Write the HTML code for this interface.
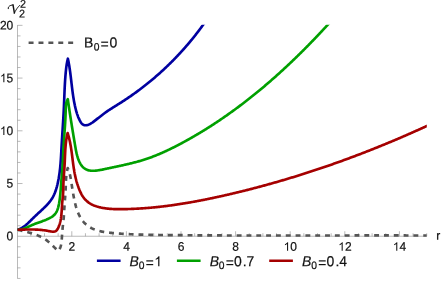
<!DOCTYPE html>
<html>
<head>
<meta charset="utf-8">
<title>plot</title>
<style>
html,body{margin:0;padding:0;background:#fff;}
body{width:442px;height:281px;overflow:hidden;}
svg{display:block;will-change:transform;}
text{font-family:"Liberation Sans",sans-serif;fill:#111;stroke:#111;stroke-width:0.2px;}
.c{fill:none;stroke-width:2.65;stroke-linejoin:round;stroke-linecap:butt;}
</style>
</head>
<body>
<svg width="442" height="281" viewBox="0 0 442 281">
<rect x="0" y="0" width="442" height="281" fill="#ffffff"/>
<g stroke="#8c8c8c" stroke-width="0.6" fill="none">
<line x1="17.50" y1="236.25" x2="426.80" y2="236.25"/>
<line x1="17.50" y1="25.10" x2="17.50" y2="278.60"/>
</g>
<g stroke="#8c8c8c" stroke-width="0.6" fill="none">
<line x1="30.85" y1="236.25" x2="30.85" y2="233.25"/>
<line x1="44.50" y1="236.25" x2="44.50" y2="233.25"/>
<line x1="58.15" y1="236.25" x2="58.15" y2="233.25"/>
<line x1="71.80" y1="236.25" x2="71.80" y2="231.25"/>
<line x1="85.45" y1="236.25" x2="85.45" y2="233.25"/>
<line x1="99.10" y1="236.25" x2="99.10" y2="233.25"/>
<line x1="112.75" y1="236.25" x2="112.75" y2="233.25"/>
<line x1="126.40" y1="236.25" x2="126.40" y2="231.25"/>
<line x1="140.05" y1="236.25" x2="140.05" y2="233.25"/>
<line x1="153.70" y1="236.25" x2="153.70" y2="233.25"/>
<line x1="167.35" y1="236.25" x2="167.35" y2="233.25"/>
<line x1="181.00" y1="236.25" x2="181.00" y2="231.25"/>
<line x1="194.65" y1="236.25" x2="194.65" y2="233.25"/>
<line x1="208.30" y1="236.25" x2="208.30" y2="233.25"/>
<line x1="221.95" y1="236.25" x2="221.95" y2="233.25"/>
<line x1="235.60" y1="236.25" x2="235.60" y2="231.25"/>
<line x1="249.25" y1="236.25" x2="249.25" y2="233.25"/>
<line x1="262.90" y1="236.25" x2="262.90" y2="233.25"/>
<line x1="276.55" y1="236.25" x2="276.55" y2="233.25"/>
<line x1="290.20" y1="236.25" x2="290.20" y2="231.25"/>
<line x1="303.85" y1="236.25" x2="303.85" y2="233.25"/>
<line x1="317.50" y1="236.25" x2="317.50" y2="233.25"/>
<line x1="331.15" y1="236.25" x2="331.15" y2="233.25"/>
<line x1="344.80" y1="236.25" x2="344.80" y2="231.25"/>
<line x1="358.45" y1="236.25" x2="358.45" y2="233.25"/>
<line x1="372.10" y1="236.25" x2="372.10" y2="233.25"/>
<line x1="385.75" y1="236.25" x2="385.75" y2="233.25"/>
<line x1="399.40" y1="236.25" x2="399.40" y2="231.25"/>
<line x1="413.05" y1="236.25" x2="413.05" y2="233.25"/>
<line x1="426.70" y1="236.25" x2="426.70" y2="233.25"/>
<line x1="17.50" y1="278.43" x2="20.50" y2="278.43"/>
<line x1="17.50" y1="267.88" x2="20.50" y2="267.88"/>
<line x1="17.50" y1="257.34" x2="20.50" y2="257.34"/>
<line x1="17.50" y1="246.79" x2="20.50" y2="246.79"/>
<line x1="17.50" y1="225.71" x2="20.50" y2="225.71"/>
<line x1="17.50" y1="215.16" x2="20.50" y2="215.16"/>
<line x1="17.50" y1="204.62" x2="20.50" y2="204.62"/>
<line x1="17.50" y1="194.07" x2="20.50" y2="194.07"/>
<line x1="17.50" y1="183.53" x2="22.50" y2="183.53"/>
<line x1="17.50" y1="172.98" x2="20.50" y2="172.98"/>
<line x1="17.50" y1="162.44" x2="20.50" y2="162.44"/>
<line x1="17.50" y1="151.89" x2="20.50" y2="151.89"/>
<line x1="17.50" y1="141.34" x2="20.50" y2="141.34"/>
<line x1="17.50" y1="130.80" x2="22.50" y2="130.80"/>
<line x1="17.50" y1="120.25" x2="20.50" y2="120.25"/>
<line x1="17.50" y1="109.71" x2="20.50" y2="109.71"/>
<line x1="17.50" y1="99.16" x2="20.50" y2="99.16"/>
<line x1="17.50" y1="88.62" x2="20.50" y2="88.62"/>
<line x1="17.50" y1="78.07" x2="22.50" y2="78.07"/>
<line x1="17.50" y1="67.53" x2="20.50" y2="67.53"/>
<line x1="17.50" y1="56.99" x2="20.50" y2="56.99"/>
<line x1="17.50" y1="46.44" x2="20.50" y2="46.44"/>
<line x1="17.50" y1="35.90" x2="20.50" y2="35.90"/>
<line x1="17.50" y1="25.35" x2="22.50" y2="25.35"/>
</g>
<g>
<text transform="translate(68.56,250.75) rotate(0.03) scale(1,1.040)" font-size="12.00px">2</text>
<text transform="translate(123.16,250.75) rotate(0.03) scale(1,1.040)" font-size="12.00px">4</text>
<text transform="translate(177.76,250.75) rotate(0.03) scale(1,1.040)" font-size="12.00px">6</text>
<text transform="translate(232.36,250.75) rotate(0.03) scale(1,1.040)" font-size="12.00px">8</text>
<path transform="translate(283.63,250.75) scale(12.000,-12.000)" d="M0.3726,0 L0.2847,0 L0.2847,0.560 C0.2637,0.540 0.236,0.520 0.202,0.500 C0.168,0.480 0.137,0.465 0.110,0.455 L0.110,0.540 C0.159,0.563 0.202,0.591 0.238,0.624 C0.275,0.657 0.301,0.689 0.316,0.716 L0.3726,0.716 Z" fill="#111"/><text transform="translate(290.30,250.75) rotate(0.03) scale(1,1.040)" font-size="12.00px">0</text>
<path transform="translate(338.23,250.75) scale(12.000,-12.000)" d="M0.3726,0 L0.2847,0 L0.2847,0.560 C0.2637,0.540 0.236,0.520 0.202,0.500 C0.168,0.480 0.137,0.465 0.110,0.455 L0.110,0.540 C0.159,0.563 0.202,0.591 0.238,0.624 C0.275,0.657 0.301,0.689 0.316,0.716 L0.3726,0.716 Z" fill="#111"/><text transform="translate(344.90,250.75) rotate(0.03) scale(1,1.040)" font-size="12.00px">2</text>
<path transform="translate(392.83,250.75) scale(12.000,-12.000)" d="M0.3726,0 L0.2847,0 L0.2847,0.560 C0.2637,0.540 0.236,0.520 0.202,0.500 C0.168,0.480 0.137,0.465 0.110,0.455 L0.110,0.540 C0.159,0.563 0.202,0.591 0.238,0.624 C0.275,0.657 0.301,0.689 0.316,0.716 L0.3726,0.716 Z" fill="#111"/><text transform="translate(399.50,250.75) rotate(0.03) scale(1,1.040)" font-size="12.00px">4</text>
<text transform="translate(6.58,240.35) rotate(0.03) scale(1,1.040)" font-size="12.00px">0</text>
<text transform="translate(6.58,187.62) rotate(0.03) scale(1,1.040)" font-size="12.00px">5</text>
<path transform="translate(-0.09,134.90) scale(12.000,-12.000)" d="M0.3726,0 L0.2847,0 L0.2847,0.560 C0.2637,0.540 0.236,0.520 0.202,0.500 C0.168,0.480 0.137,0.465 0.110,0.455 L0.110,0.540 C0.159,0.563 0.202,0.591 0.238,0.624 C0.275,0.657 0.301,0.689 0.316,0.716 L0.3726,0.716 Z" fill="#111"/><text transform="translate(6.58,134.90) rotate(0.03) scale(1,1.040)" font-size="12.00px">0</text>
<path transform="translate(-0.09,82.17) scale(12.000,-12.000)" d="M0.3726,0 L0.2847,0 L0.2847,0.560 C0.2637,0.540 0.236,0.520 0.202,0.500 C0.168,0.480 0.137,0.465 0.110,0.455 L0.110,0.540 C0.159,0.563 0.202,0.591 0.238,0.624 C0.275,0.657 0.301,0.689 0.316,0.716 L0.3726,0.716 Z" fill="#111"/><text transform="translate(6.58,82.17) rotate(0.03) scale(1,1.040)" font-size="12.00px">5</text>
<text transform="translate(-0.09,29.45) rotate(0.03) scale(1,1.040)" font-size="12.00px">2</text><text transform="translate(6.58,29.45) rotate(0.03) scale(1,1.040)" font-size="12.00px">0</text>
<text transform="translate(436.20,239.80) rotate(0.03) scale(1,1.040)" font-size="12.00px">r</text>
</g>
<!-- curves -->
<defs><clipPath id="pr"><rect x="0" y="24.75" width="426.8" height="260"/></clipPath></defs>
<g clip-path="url(#pr)">
<path class="c" stroke="#555555" stroke-dasharray="4.91 4.91" stroke-dashoffset="-0.1" d="M17.60,229.80 L18.38,229.97 L19.17,230.15 L19.97,230.32 L20.76,230.50 L21.56,230.68 L22.36,230.86 L23.16,231.05 L23.96,231.24 L24.77,231.43 L25.57,231.62 L26.38,231.82 L27.18,232.03 L27.98,232.24 L28.79,232.45 L29.59,232.68 L30.39,232.90 L31.19,233.14 L31.98,233.38 L32.77,233.63 L33.56,233.89 L34.35,234.16 L35.13,234.44 L35.91,234.72 L36.68,235.02 L37.45,235.32 L38.21,235.64 L38.96,235.97 L39.71,236.31 L40.45,236.66 L41.19,237.02 L41.92,237.40 L42.64,237.79 L43.35,238.19 L44.05,238.61 L44.74,239.04 L45.42,239.49 L46.10,239.95 L46.76,240.43 L47.41,240.92 L48.05,241.43 L48.69,241.95 L49.31,242.49 L49.92,243.04 L50.53,243.60 L51.13,244.17 L51.73,244.74 L52.32,245.32 L52.91,245.90 L53.50,246.49 L54.09,247.07 L54.68,247.65 L55.27,248.23 L55.87,248.80 L56.47,249.36 L57.07,249.92 L57.68,250.47 L58.30,251.00 L58.80,250.32 L59.24,249.63 L59.64,248.92 L59.99,248.19 L60.30,247.45 L60.57,246.69 L60.80,245.93 L61.00,245.15 L61.17,244.36 L61.31,243.57 L61.43,242.76 L61.53,241.96 L61.62,241.14 L61.69,240.32 L61.75,239.50 L61.81,238.68 L61.86,237.86 L61.92,237.03 L61.97,236.21 L62.03,235.39 L62.09,234.57 L62.15,233.76 L62.21,232.94 L62.27,232.12 L62.34,231.31 L62.41,230.49 L62.48,229.68 L62.56,228.87 L62.63,228.05 L62.71,227.24 L62.80,226.43 L62.89,225.62 L62.97,224.81 L63.06,224.01 L63.16,223.20 L63.25,222.39 L63.33,221.58 L63.42,220.77 L63.51,219.96 L63.59,219.16 L63.67,218.35 L63.74,217.54 L63.81,216.72 L63.87,215.91 L63.93,215.10 L63.98,214.29 L64.03,213.47 L64.08,212.66 L64.13,211.85 L64.18,211.03 L64.23,210.22 L64.27,209.40 L64.32,208.59 L64.37,207.77 L64.42,206.96 L64.48,206.15 L64.53,205.33 L64.59,204.52 L64.65,203.70 L64.71,202.89 L64.77,202.08 L64.83,201.27 L64.89,200.45 L64.95,199.64 L65.01,198.83 L65.07,198.01 L65.13,197.20 L65.19,196.39 L65.25,195.57 L65.30,194.76 L65.36,193.95 L65.41,193.13 L65.46,192.32 L65.51,191.51 L65.56,190.69 L65.60,189.88 L65.64,189.06 L65.68,188.25 L65.71,187.43 L65.75,186.62 L65.77,185.80 L65.80,184.99 L65.83,184.17 L65.86,183.36 L65.89,182.54 L65.92,181.73 L65.96,180.91 L66.00,180.10 L66.04,179.29 L66.09,178.47 L66.15,177.66 L66.22,176.85 L66.29,176.04 L66.38,175.23 L66.47,174.42 L66.57,173.62 L66.69,172.81 L66.82,172.00 L66.97,171.20 L67.13,170.40 L67.30,169.60 L67.49,168.80 L67.70,168.00 L68.02,168.75 L68.32,169.50 L68.60,170.25 L68.86,171.01 L69.11,171.77 L69.35,172.54 L69.57,173.31 L69.77,174.09 L69.97,174.86 L70.15,175.64 L70.33,176.42 L70.49,177.21 L70.64,178.00 L70.79,178.78 L70.93,179.57 L71.07,180.37 L71.20,181.16 L71.32,181.95 L71.44,182.75 L71.56,183.54 L71.68,184.34 L71.79,185.13 L71.91,185.93 L72.03,186.72 L72.15,187.51 L72.27,188.31 L72.39,189.10 L72.52,189.89 L72.65,190.68 L72.78,191.47 L72.92,192.26 L73.05,193.05 L73.19,193.84 L73.33,194.62 L73.47,195.41 L73.62,196.19 L73.77,196.98 L73.92,197.76 L74.07,198.55 L74.23,199.33 L74.39,200.11 L74.56,200.90 L74.73,201.68 L74.90,202.46 L75.09,203.24 L75.28,204.02 L75.47,204.80 L75.68,205.59 L75.89,206.37 L76.12,207.14 L76.35,207.92 L76.59,208.70 L76.85,209.47 L77.11,210.24 L77.38,211.01 L77.67,211.77 L77.97,212.53 L78.28,213.27 L78.61,214.02 L78.95,214.75 L79.30,215.48 L79.67,216.19 L80.05,216.90 L80.45,217.60 L80.86,218.28 L81.29,218.96 L81.73,219.62 L82.20,220.26 L82.68,220.90 L83.18,221.51 L83.70,222.12 L84.23,222.70 L84.79,223.27 L85.37,223.82 L85.96,224.36 L86.57,224.87 L87.20,225.37 L87.85,225.85 L88.51,226.31 L89.18,226.75 L89.86,227.18 L90.56,227.58 L91.27,227.97 L91.98,228.34 L92.71,228.69 L93.44,229.02 L94.18,229.33 L94.93,229.62 L95.68,229.90 L96.44,230.16 L97.21,230.41 L97.98,230.64 L98.75,230.85 L99.53,231.05 L100.32,231.24 L101.11,231.42 L101.90,231.58 L102.70,231.74 L103.50,231.88 L104.30,232.02 L105.11,232.14 L105.91,232.26 L106.72,232.37 L107.53,232.47 L108.35,232.57 L109.16,232.66 L109.97,232.75 L110.79,232.83 L111.60,232.91 L112.41,232.99 L113.23,233.07 L114.04,233.14 L114.85,233.21 L115.66,233.28 L116.47,233.35 L117.28,233.41 L118.09,233.48 L118.90,233.54 L119.70,233.60 L120.51,233.65 L121.32,233.71 L122.12,233.76 L122.93,233.82 L123.73,233.87 L124.54,233.92 L125.34,233.96 L126.15,234.01 L126.95,234.05 L127.75,234.10 L128.56,234.14 L129.36,234.18 L130.16,234.22 L130.96,234.25 L131.76,234.29 L132.56,234.32 L133.36,234.36 L134.16,234.39 L134.96,234.42 L135.76,234.45 L136.56,234.48 L137.36,234.51 L138.16,234.53 L138.95,234.56 L139.75,234.58 L140.55,234.60 L141.35,234.63 L142.15,234.65 L142.94,234.67 L143.74,234.69 L144.54,234.71 L145.33,234.72 L146.13,234.74 L146.93,234.76 L147.72,234.77 L148.52,234.79 L149.31,234.80 L150.11,234.82 L150.91,234.83 L151.70,234.85 L152.50,234.86 L153.29,234.87 L154.09,234.88 L154.89,234.89 L155.68,234.90 L156.48,234.92 L157.27,234.93 L158.07,234.94 L158.87,234.95 L159.66,234.96 L160.46,234.97 L161.26,234.98 L162.05,234.99 L162.85,235.00 L163.65,235.00 L164.44,235.01 L165.24,235.02 L166.04,235.03 L166.83,235.04 L167.63,235.05 L168.43,235.06 L169.22,235.07 L170.02,235.08 L170.82,235.09 L171.62,235.09 L172.42,235.10 L173.21,235.11 L174.01,235.12 L174.81,235.13 L175.61,235.13 L176.41,235.14 L177.20,235.15 L178.00,235.16 L178.80,235.17 L179.60,235.17 L180.40,235.18 L181.20,235.19 L182.00,235.19 L182.80,235.20 L183.59,235.21 L184.39,235.22 L185.19,235.22 L185.99,235.23 L186.79,235.24 L187.59,235.24 L188.39,235.25 L189.19,235.25 L189.99,235.26 L190.79,235.27 L191.59,235.27 L192.39,235.28 L193.19,235.29 L193.99,235.29 L194.79,235.30 L195.59,235.30 L196.39,235.31 L197.19,235.31 L197.99,235.32 L198.79,235.32 L199.59,235.33 L200.39,235.34 L201.19,235.34 L201.99,235.35 L202.80,235.35 L203.60,235.35 L204.40,235.36 L205.20,235.36 L206.00,235.37 L206.80,235.37 L207.60,235.38 L208.40,235.38 L209.21,235.39 L210.01,235.39 L210.81,235.40 L211.61,235.40 L212.41,235.40 L213.21,235.41 L214.02,235.41 L214.82,235.41 L215.62,235.42 L216.42,235.42 L217.22,235.43 L218.03,235.43 L218.83,235.43 L219.63,235.44 L220.43,235.44 L221.23,235.44 L222.04,235.45 L222.84,235.45 L223.64,235.45 L224.45,235.46 L225.25,235.46 L226.05,235.46 L226.85,235.46 L227.66,235.47 L228.46,235.47 L229.26,235.47 L230.06,235.47 L230.87,235.48 L231.67,235.48 L232.47,235.48 L233.28,235.48 L234.08,235.49 L234.88,235.49 L235.69,235.49 L236.49,235.49 L237.29,235.49 L238.10,235.50 L238.90,235.50 L239.70,235.50 L240.51,235.50 L241.31,235.50 L242.12,235.51 L242.92,235.51 L243.72,235.51 L244.53,235.51 L245.33,235.51 L246.13,235.51 L246.94,235.51 L247.74,235.52 L248.55,235.52 L249.35,235.52 L250.15,235.52 L250.96,235.52 L251.76,235.52 L252.57,235.52 L253.37,235.52 L254.17,235.52 L254.98,235.52 L255.78,235.53 L256.59,235.53 L257.39,235.53 L258.20,235.53 L259.00,235.53 L259.80,235.53 L260.61,235.53 L261.41,235.53 L262.22,235.53 L263.02,235.53 L263.83,235.53 L264.63,235.53 L265.44,235.53 L266.24,235.53 L267.05,235.53 L267.85,235.53 L268.65,235.53 L269.46,235.53 L270.26,235.53 L271.07,235.53 L271.87,235.53 L272.68,235.53 L273.48,235.53 L274.29,235.53 L275.09,235.53 L275.90,235.53 L276.70,235.53 L277.51,235.53 L278.31,235.53 L279.12,235.53 L279.92,235.53 L280.73,235.53 L281.53,235.53 L282.34,235.53 L283.14,235.53 L283.95,235.53 L284.75,235.53 L285.56,235.53 L286.36,235.53 L287.17,235.53 L287.97,235.53 L288.78,235.53 L289.58,235.53 L290.39,235.53 L291.19,235.52 L292.00,235.52 L292.80,235.52 L293.61,235.52 L294.41,235.52 L295.22,235.52 L296.02,235.52 L296.83,235.52 L297.63,235.52 L298.44,235.52 L299.24,235.52 L300.05,235.52 L300.85,235.51 L301.66,235.51 L302.46,235.51 L303.27,235.51 L304.07,235.51 L304.88,235.51 L305.68,235.51 L306.49,235.51 L307.29,235.51 L308.10,235.51 L308.90,235.50 L309.71,235.50 L310.51,235.50 L311.32,235.50 L312.12,235.50 L312.93,235.50 L313.73,235.50 L314.54,235.50 L315.34,235.50 L316.15,235.49 L316.95,235.49 L317.76,235.49 L318.56,235.49 L319.37,235.49 L320.17,235.49 L320.98,235.49 L321.78,235.49 L322.58,235.49 L323.39,235.48 L324.19,235.48 L325.00,235.48 L325.80,235.48 L326.61,235.48 L327.41,235.48 L328.22,235.48 L329.02,235.48 L329.83,235.47 L330.63,235.47 L331.43,235.47 L332.24,235.47 L333.04,235.47 L333.85,235.47 L334.65,235.47 L335.46,235.47 L336.26,235.47 L337.07,235.46 L337.87,235.46 L338.67,235.46 L339.48,235.46 L340.28,235.46 L341.09,235.46 L341.89,235.46 L342.69,235.46 L343.50,235.46 L344.30,235.45 L345.11,235.45 L345.91,235.45 L346.71,235.45 L347.52,235.45 L348.32,235.45 L349.12,235.45 L349.93,235.45 L350.73,235.45 L351.54,235.45 L352.34,235.44 L353.14,235.44 L353.95,235.44 L354.75,235.44 L355.55,235.44 L356.36,235.44 L357.16,235.44 L357.96,235.44 L358.77,235.44 L359.57,235.44 L360.37,235.44 L361.18,235.44 L361.98,235.43 L362.78,235.43 L363.58,235.43 L364.39,235.43 L365.19,235.43 L365.99,235.43 L366.80,235.43 L367.60,235.43 L368.40,235.43 L369.20,235.43 L370.01,235.43 L370.81,235.43 L371.61,235.43 L372.41,235.43 L373.21,235.43 L374.02,235.43 L374.82,235.43 L375.62,235.43 L376.42,235.43 L377.22,235.43 L378.03,235.43 L378.83,235.43 L379.63,235.43 L380.43,235.43 L381.23,235.43 L382.04,235.43 L382.84,235.43 L383.64,235.43 L384.44,235.43 L385.24,235.43 L386.04,235.43 L386.84,235.43 L387.64,235.43 L388.45,235.43 L389.25,235.43 L390.05,235.43 L390.85,235.43 L391.65,235.43 L392.45,235.43 L393.25,235.43 L394.05,235.43 L394.85,235.43 L395.65,235.43 L396.45,235.43 L397.25,235.43 L398.05,235.43 L398.85,235.44 L399.65,235.44 L400.45,235.44 L401.25,235.44 L402.05,235.44 L402.85,235.44 L403.65,235.44 L404.45,235.44 L405.25,235.44 L406.05,235.45 L406.85,235.45 L407.65,235.45 L408.45,235.45 L409.25,235.45 L410.04,235.45 L410.84,235.46 L411.64,235.46 L412.44,235.46 L413.24,235.46 L414.04,235.46 L414.84,235.46 L415.63,235.47 L416.43,235.47 L417.23,235.47 L418.03,235.47 L418.83,235.47 L419.62,235.48 L420.42,235.48 L421.22,235.48 L422.02,235.48 L422.81,235.49 L423.61,235.49 L424.41,235.49 L425.21,235.49 L426.00,235.50 L426.80,235.50"/>
<path class="c" stroke="#0000a0" d="M17.60,229.80 L18.38,229.52 L19.14,229.21 L19.88,228.87 L20.60,228.52 L21.31,228.14 L22.01,227.74 L22.69,227.32 L23.35,226.88 L24.00,226.42 L24.65,225.95 L25.28,225.47 L25.90,224.97 L26.51,224.45 L27.11,223.93 L27.71,223.40 L28.30,222.85 L28.89,222.30 L29.47,221.74 L30.04,221.18 L30.62,220.62 L31.19,220.05 L31.76,219.48 L32.33,218.91 L32.91,218.33 L33.48,217.77 L34.06,217.20 L34.64,216.64 L35.22,216.08 L35.81,215.53 L36.40,214.97 L36.99,214.42 L37.58,213.88 L38.17,213.33 L38.77,212.78 L39.36,212.24 L39.95,211.69 L40.55,211.15 L41.14,210.60 L41.73,210.05 L42.32,209.50 L42.90,208.95 L43.49,208.39 L44.07,207.83 L44.64,207.27 L45.22,206.70 L45.79,206.13 L46.35,205.55 L46.91,204.97 L47.46,204.38 L48.00,203.78 L48.53,203.17 L49.05,202.56 L49.56,201.94 L50.06,201.32 L50.54,200.68 L51.01,200.03 L51.46,199.37 L51.90,198.71 L52.32,198.03 L52.72,197.34 L53.10,196.64 L53.47,195.93 L53.82,195.21 L54.16,194.48 L54.48,193.75 L54.79,193.01 L55.08,192.26 L55.36,191.50 L55.63,190.74 L55.89,189.98 L56.14,189.21 L56.37,188.43 L56.60,187.65 L56.82,186.87 L57.02,186.08 L57.22,185.30 L57.42,184.51 L57.60,183.72 L57.78,182.93 L57.95,182.14 L58.12,181.35 L58.28,180.55 L58.43,179.76 L58.58,178.97 L58.73,178.17 L58.86,177.38 L58.99,176.58 L59.12,175.79 L59.24,174.99 L59.36,174.20 L59.47,173.40 L59.58,172.60 L59.68,171.80 L59.78,171.01 L59.88,170.21 L59.97,169.41 L60.06,168.61 L60.14,167.81 L60.22,167.01 L60.30,166.21 L60.37,165.41 L60.44,164.60 L60.51,163.80 L60.57,163.00 L60.64,162.20 L60.70,161.40 L60.75,160.59 L60.81,159.79 L60.86,158.99 L60.92,158.19 L60.97,157.38 L61.02,156.58 L61.06,155.78 L61.11,154.97 L61.16,154.17 L61.20,153.36 L61.25,152.56 L61.29,151.76 L61.33,150.95 L61.38,150.15 L61.42,149.35 L61.46,148.54 L61.50,147.74 L61.55,146.93 L61.59,146.13 L61.64,145.33 L61.68,144.52 L61.73,143.72 L61.78,142.91 L61.82,142.11 L61.87,141.31 L61.92,140.50 L61.97,139.70 L62.02,138.90 L62.07,138.09 L62.12,137.29 L62.17,136.49 L62.22,135.68 L62.27,134.88 L62.32,134.08 L62.37,133.28 L62.42,132.47 L62.47,131.67 L62.52,130.87 L62.58,130.06 L62.63,129.26 L62.68,128.46 L62.73,127.65 L62.78,126.85 L62.83,126.05 L62.88,125.25 L62.93,124.44 L62.98,123.64 L63.03,122.84 L63.08,122.03 L63.13,121.23 L63.18,120.43 L63.23,119.62 L63.28,118.82 L63.33,118.02 L63.37,117.21 L63.42,116.41 L63.46,115.61 L63.51,114.80 L63.55,114.00 L63.60,113.20 L63.64,112.39 L63.68,111.59 L63.72,110.78 L63.76,109.98 L63.80,109.18 L63.84,108.37 L63.88,107.57 L63.91,106.76 L63.95,105.96 L63.98,105.15 L64.02,104.35 L64.05,103.54 L64.08,102.74 L64.11,101.94 L64.15,101.13 L64.18,100.33 L64.21,99.52 L64.24,98.72 L64.27,97.91 L64.30,97.11 L64.33,96.30 L64.36,95.50 L64.40,94.69 L64.43,93.89 L64.46,93.08 L64.49,92.28 L64.53,91.47 L64.56,90.67 L64.60,89.86 L64.63,89.06 L64.67,88.25 L64.71,87.45 L64.75,86.65 L64.79,85.84 L64.83,85.04 L64.88,84.23 L64.92,83.43 L64.97,82.63 L65.02,81.82 L65.07,81.02 L65.12,80.22 L65.17,79.42 L65.23,78.61 L65.29,77.81 L65.35,77.01 L65.41,76.21 L65.48,75.40 L65.54,74.60 L65.61,73.80 L65.69,73.00 L65.76,72.20 L65.84,71.40 L65.92,70.60 L66.00,69.80 L66.09,69.00 L66.18,68.20 L66.28,67.40 L66.38,66.60 L66.49,65.81 L66.61,65.01 L66.73,64.21 L66.86,63.42 L67.01,62.63 L67.16,61.84 L67.33,61.05 L67.50,60.27 L67.69,59.48 L67.90,58.70 L68.07,59.49 L68.23,60.27 L68.39,61.06 L68.54,61.85 L68.69,62.64 L68.83,63.43 L68.97,64.22 L69.11,65.01 L69.24,65.80 L69.37,66.59 L69.49,67.39 L69.61,68.18 L69.73,68.98 L69.85,69.78 L69.96,70.57 L70.07,71.37 L70.18,72.17 L70.28,72.97 L70.39,73.77 L70.49,74.56 L70.59,75.36 L70.69,76.16 L70.78,76.96 L70.88,77.76 L70.97,78.57 L71.07,79.37 L71.16,80.17 L71.26,80.97 L71.35,81.77 L71.44,82.57 L71.53,83.37 L71.63,84.17 L71.72,84.97 L71.82,85.77 L71.91,86.57 L72.01,87.37 L72.11,88.17 L72.20,88.97 L72.30,89.77 L72.41,90.57 L72.51,91.37 L72.62,92.17 L72.72,92.97 L72.83,93.76 L72.95,94.56 L73.06,95.35 L73.18,96.15 L73.30,96.94 L73.43,97.74 L73.56,98.53 L73.69,99.32 L73.82,100.11 L73.96,100.90 L74.11,101.69 L74.26,102.48 L74.41,103.26 L74.57,104.05 L74.73,104.83 L74.89,105.62 L75.07,106.40 L75.25,107.18 L75.43,107.96 L75.62,108.74 L75.81,109.51 L76.02,110.29 L76.23,111.06 L76.45,111.83 L76.68,112.60 L76.91,113.37 L77.16,114.13 L77.43,114.89 L77.70,115.65 L77.98,116.41 L78.28,117.16 L78.60,117.91 L78.93,118.65 L79.27,119.39 L79.63,120.13 L80.01,120.86 L80.41,121.59 L80.83,122.30 L81.29,122.97 L81.80,123.59 L82.37,124.13 L83.01,124.58 L83.70,124.92 L84.45,125.15 L85.23,125.27 L86.02,125.27 L86.83,125.16 L87.63,124.97 L88.42,124.70 L89.20,124.38 L89.94,124.01 L90.66,123.62 L91.35,123.20 L92.03,122.76 L92.69,122.31 L93.34,121.84 L93.98,121.36 L94.62,120.88 L95.26,120.39 L95.89,119.90 L96.52,119.41 L97.16,118.91 L97.79,118.42 L98.42,117.92 L99.05,117.42 L99.68,116.92 L100.31,116.43 L100.95,115.93 L101.58,115.44 L102.22,114.94 L102.86,114.46 L103.50,113.97 L104.14,113.49 L104.79,113.01 L105.44,112.54 L106.10,112.08 L106.75,111.62 L107.42,111.16 L108.08,110.71 L108.75,110.26 L109.42,109.82 L110.09,109.38 L110.77,108.94 L111.45,108.51 L112.12,108.08 L112.80,107.65 L113.49,107.22 L114.17,106.79 L114.85,106.36 L115.54,105.94 L116.22,105.51 L116.90,105.09 L117.59,104.66 L118.27,104.24 L118.95,103.81 L119.63,103.38 L120.32,102.95 L120.99,102.52 L121.67,102.09 L122.35,101.65 L123.03,101.22 L123.70,100.78 L124.37,100.34 L125.05,99.89 L125.72,99.45 L126.39,99.00 L127.05,98.55 L127.72,98.11 L128.39,97.65 L129.05,97.20 L129.72,96.75 L130.38,96.29 L131.04,95.83 L131.70,95.37 L132.36,94.91 L133.01,94.44 L133.67,93.98 L134.32,93.51 L134.97,93.04 L135.63,92.57 L136.28,92.10 L136.93,91.63 L137.57,91.15 L138.22,90.67 L138.86,90.19 L139.51,89.71 L140.15,89.23 L140.79,88.74 L141.43,88.26 L142.07,87.77 L142.71,87.28 L143.34,86.79 L143.98,86.30 L144.61,85.80 L145.24,85.30 L145.87,84.81 L146.50,84.31 L147.13,83.81 L147.76,83.30 L148.38,82.80 L149.00,82.29 L149.63,81.78 L150.25,81.27 L150.87,80.76 L151.48,80.25 L152.10,79.73 L152.71,79.22 L153.33,78.70 L153.94,78.18 L154.55,77.66 L155.16,77.14 L155.77,76.61 L156.38,76.09 L156.98,75.56 L157.59,75.03 L158.19,74.50 L158.79,73.97 L159.39,73.43 L159.99,72.90 L160.58,72.36 L161.18,71.82 L161.77,71.28 L162.36,70.74 L162.95,70.19 L163.54,69.65 L164.13,69.10 L164.72,68.55 L165.30,68.00 L165.89,67.45 L166.47,66.90 L167.05,66.34 L167.63,65.79 L168.21,65.23 L168.78,64.67 L169.36,64.11 L169.93,63.55 L170.50,62.98 L171.07,62.42 L171.64,61.85 L172.21,61.28 L172.77,60.71 L173.34,60.14 L173.90,59.57 L174.46,58.99 L175.02,58.42 L175.58,57.84 L176.13,57.26 L176.69,56.68 L177.24,56.10 L177.79,55.52 L178.34,54.93 L178.89,54.34 L179.44,53.76 L179.99,53.17 L180.53,52.58 L181.07,51.98 L181.61,51.39 L182.15,50.79 L182.69,50.20 L183.23,49.60 L183.76,49.00 L184.29,48.40 L184.83,47.80 L185.36,47.19 L185.88,46.59 L186.41,45.98 L186.93,45.37 L187.46,44.76 L187.98,44.15 L188.50,43.54 L189.02,42.93 L189.54,42.31 L190.05,41.69 L190.56,41.08 L191.08,40.46 L191.59,39.84 L192.10,39.21 L192.60,38.59 L193.11,37.96 L193.61,37.34 L194.11,36.71 L194.61,36.08 L195.11,35.45 L195.61,34.82 L196.11,34.19 L196.60,33.55 L197.09,32.91 L197.58,32.28 L198.07,31.64 L198.56,31.00 L199.04,30.36 L199.53,29.71 L200.01,29.07 L200.49,28.43 L200.97,27.78 L201.45,27.13 L201.92,26.48 L202.39,25.83 L202.87,25.18 L203.34,24.53 L203.81,23.87 L204.27,23.22 L204.74,22.56 L205.20,21.90"/>
<path class="c" stroke="#00a000" d="M17.60,229.80 L18.43,229.73 L19.25,229.64 L20.06,229.51 L20.86,229.35 L21.65,229.17 L22.43,228.97 L23.20,228.75 L23.96,228.50 L24.72,228.24 L25.47,227.96 L26.22,227.67 L26.97,227.37 L27.71,227.06 L28.44,226.74 L29.18,226.41 L29.91,226.08 L30.65,225.75 L31.38,225.41 L32.11,225.08 L32.85,224.75 L33.59,224.43 L34.33,224.12 L35.08,223.81 L35.83,223.52 L36.59,223.23 L37.35,222.96 L38.11,222.69 L38.87,222.43 L39.63,222.17 L40.40,221.91 L41.16,221.65 L41.92,221.38 L42.67,221.11 L43.43,220.83 L44.17,220.55 L44.91,220.25 L45.64,219.93 L46.37,219.61 L47.10,219.27 L47.83,218.93 L48.57,218.57 L49.32,218.21 L50.06,217.83 L50.79,217.44 L51.51,217.02 L52.21,216.59 L52.87,216.12 L53.50,215.62 L54.09,215.09 L54.64,214.53 L55.14,213.93 L55.60,213.31 L56.03,212.65 L56.43,211.98 L56.79,211.28 L57.12,210.55 L57.42,209.81 L57.69,209.06 L57.94,208.29 L58.17,207.50 L58.38,206.71 L58.58,205.91 L58.75,205.10 L58.91,204.29 L59.07,203.48 L59.21,202.67 L59.34,201.86 L59.47,201.05 L59.59,200.24 L59.70,199.44 L59.81,198.63 L59.91,197.83 L60.00,197.03 L60.09,196.23 L60.18,195.43 L60.26,194.63 L60.34,193.83 L60.41,193.04 L60.48,192.24 L60.55,191.44 L60.61,190.65 L60.68,189.85 L60.74,189.06 L60.80,188.26 L60.86,187.46 L60.92,186.67 L60.97,185.87 L61.03,185.07 L61.09,184.27 L61.15,183.47 L61.22,182.67 L61.28,181.87 L61.34,181.07 L61.41,180.27 L61.47,179.47 L61.54,178.66 L61.61,177.86 L61.67,177.06 L61.74,176.25 L61.80,175.45 L61.87,174.64 L61.94,173.83 L62.00,173.03 L62.07,172.22 L62.13,171.41 L62.19,170.61 L62.26,169.80 L62.32,168.99 L62.38,168.19 L62.43,167.38 L62.49,166.57 L62.55,165.77 L62.60,164.96 L62.65,164.16 L62.70,163.35 L62.75,162.54 L62.79,161.74 L62.84,160.93 L62.88,160.13 L62.92,159.33 L62.97,158.52 L63.01,157.72 L63.05,156.91 L63.09,156.11 L63.13,155.30 L63.16,154.50 L63.20,153.70 L63.24,152.89 L63.28,152.09 L63.32,151.29 L63.36,150.48 L63.40,149.68 L63.44,148.88 L63.49,148.07 L63.53,147.27 L63.58,146.47 L63.62,145.66 L63.67,144.86 L63.72,144.06 L63.77,143.25 L63.82,142.45 L63.87,141.65 L63.93,140.84 L63.98,140.04 L64.04,139.23 L64.09,138.43 L64.15,137.63 L64.20,136.82 L64.26,136.02 L64.32,135.22 L64.38,134.41 L64.43,133.61 L64.49,132.80 L64.55,132.00 L64.61,131.20 L64.66,130.39 L64.72,129.59 L64.78,128.78 L64.83,127.98 L64.89,127.17 L64.94,126.37 L64.99,125.57 L65.05,124.76 L65.10,123.96 L65.15,123.15 L65.19,122.35 L65.24,121.54 L65.29,120.74 L65.33,119.93 L65.37,119.13 L65.41,118.33 L65.45,117.52 L65.49,116.72 L65.52,115.91 L65.55,115.11 L65.58,114.30 L65.61,113.50 L65.64,112.69 L65.66,111.89 L65.68,111.08 L65.70,110.28 L65.71,109.47 L65.73,108.67 L65.75,107.86 L65.78,107.06 L65.82,106.26 L65.89,105.46 L65.99,104.66 L66.11,103.87 L66.27,103.08 L66.47,102.29 L66.72,101.51 L67.02,100.74 L67.38,99.97 L67.80,99.20 L67.91,100.00 L68.03,100.79 L68.14,101.59 L68.26,102.38 L68.37,103.18 L68.49,103.97 L68.61,104.77 L68.72,105.56 L68.84,106.36 L68.96,107.15 L69.08,107.95 L69.20,108.74 L69.31,109.54 L69.43,110.33 L69.55,111.12 L69.67,111.92 L69.80,112.71 L69.92,113.50 L70.04,114.30 L70.16,115.09 L70.28,115.88 L70.41,116.68 L70.53,117.47 L70.65,118.26 L70.78,119.05 L70.90,119.85 L71.02,120.64 L71.15,121.43 L71.27,122.22 L71.40,123.01 L71.53,123.81 L71.65,124.60 L71.78,125.39 L71.91,126.18 L72.03,126.97 L72.16,127.77 L72.29,128.56 L72.42,129.35 L72.55,130.14 L72.68,130.93 L72.81,131.73 L72.94,132.52 L73.07,133.31 L73.20,134.10 L73.33,134.89 L73.46,135.69 L73.59,136.48 L73.72,137.27 L73.85,138.06 L73.99,138.85 L74.12,139.65 L74.25,140.44 L74.39,141.23 L74.52,142.02 L74.65,142.82 L74.79,143.61 L74.92,144.40 L75.06,145.20 L75.19,145.99 L75.33,146.78 L75.46,147.57 L75.60,148.37 L75.74,149.16 L75.89,149.95 L76.04,150.74 L76.20,151.53 L76.36,152.31 L76.53,153.10 L76.71,153.88 L76.91,154.66 L77.11,155.44 L77.32,156.21 L77.55,156.98 L77.79,157.74 L78.05,158.50 L78.32,159.26 L78.61,160.01 L78.91,160.76 L79.24,161.50 L79.58,162.24 L79.95,162.97 L80.34,163.68 L80.76,164.38 L81.21,165.05 L81.68,165.70 L82.20,166.32 L82.74,166.90 L83.32,167.45 L83.94,167.96 L84.57,168.43 L85.24,168.87 L85.93,169.25 L86.65,169.60 L87.38,169.90 L88.13,170.15 L88.90,170.35 L89.69,170.51 L90.48,170.62 L91.28,170.70 L92.09,170.74 L92.90,170.76 L93.70,170.75 L94.51,170.73 L95.31,170.68 L96.11,170.61 L96.92,170.53 L97.72,170.43 L98.52,170.31 L99.32,170.18 L100.12,170.05 L100.92,169.90 L101.72,169.74 L102.51,169.58 L103.31,169.41 L104.11,169.24 L104.90,169.07 L105.70,168.90 L106.49,168.73 L107.29,168.56 L108.08,168.39 L108.88,168.22 L109.67,168.05 L110.46,167.88 L111.25,167.72 L112.04,167.55 L112.83,167.38 L113.62,167.21 L114.41,167.05 L115.20,166.88 L115.99,166.71 L116.77,166.55 L117.56,166.38 L118.35,166.21 L119.13,166.04 L119.92,165.87 L120.70,165.70 L121.48,165.53 L122.27,165.36 L123.05,165.18 L123.83,165.01 L124.61,164.83 L125.39,164.66 L126.17,164.48 L126.95,164.30 L127.72,164.12 L128.50,163.93 L129.27,163.75 L130.05,163.56 L130.82,163.37 L131.60,163.18 L132.37,162.99 L133.14,162.79 L133.91,162.59 L134.68,162.39 L135.45,162.19 L136.22,161.98 L136.99,161.78 L137.75,161.56 L138.52,161.35 L139.28,161.13 L140.05,160.91 L140.81,160.69 L141.57,160.46 L142.33,160.23 L143.10,160.00 L143.85,159.76 L144.61,159.52 L145.37,159.28 L146.13,159.03 L146.88,158.77 L147.64,158.52 L148.39,158.26 L149.14,157.99 L149.89,157.72 L150.65,157.45 L151.40,157.17 L152.14,156.89 L152.89,156.61 L153.64,156.32 L154.38,156.03 L155.13,155.74 L155.87,155.44 L156.62,155.14 L157.36,154.84 L158.10,154.53 L158.84,154.22 L159.58,153.91 L160.32,153.59 L161.06,153.27 L161.79,152.95 L162.53,152.62 L163.26,152.29 L164.00,151.96 L164.73,151.63 L165.46,151.29 L166.19,150.95 L166.92,150.61 L167.65,150.27 L168.38,149.92 L169.11,149.57 L169.83,149.22 L170.56,148.87 L171.28,148.51 L172.01,148.16 L172.73,147.80 L173.45,147.44 L174.17,147.07 L174.89,146.71 L175.61,146.34 L176.33,145.97 L177.05,145.60 L177.76,145.23 L178.48,144.86 L179.19,144.48 L179.91,144.10 L180.62,143.73 L181.33,143.35 L182.04,142.97 L182.75,142.58 L183.46,142.20 L184.17,141.82 L184.88,141.43 L185.59,141.04 L186.29,140.65 L187.00,140.26 L187.70,139.87 L188.40,139.48 L189.11,139.09 L189.81,138.69 L190.51,138.29 L191.21,137.90 L191.91,137.50 L192.61,137.10 L193.30,136.70 L194.00,136.29 L194.70,135.89 L195.39,135.48 L196.09,135.08 L196.78,134.67 L197.47,134.26 L198.16,133.85 L198.85,133.44 L199.54,133.03 L200.23,132.61 L200.92,132.20 L201.61,131.78 L202.29,131.36 L202.98,130.94 L203.66,130.52 L204.35,130.10 L205.03,129.68 L205.71,129.26 L206.40,128.83 L207.08,128.41 L207.76,127.98 L208.43,127.55 L209.11,127.12 L209.79,126.69 L210.47,126.26 L211.14,125.82 L211.82,125.39 L212.49,124.95 L213.16,124.52 L213.84,124.08 L214.51,123.64 L215.18,123.20 L215.85,122.76 L216.52,122.32 L217.19,121.87 L217.85,121.43 L218.52,120.98 L219.19,120.54 L219.85,120.09 L220.52,119.64 L221.18,119.19 L221.84,118.74 L222.51,118.28 L223.17,117.83 L223.83,117.38 L224.49,116.92 L225.15,116.46 L225.80,116.00 L226.46,115.55 L227.12,115.09 L227.77,114.62 L228.43,114.16 L229.08,113.70 L229.74,113.23 L230.39,112.77 L231.04,112.30 L231.69,111.83 L232.34,111.36 L232.99,110.89 L233.64,110.42 L234.29,109.95 L234.93,109.48 L235.58,109.00 L236.23,108.53 L236.87,108.05 L237.52,107.58 L238.16,107.10 L238.80,106.62 L239.44,106.14 L240.08,105.66 L240.72,105.18 L241.36,104.69 L242.00,104.21 L242.64,103.72 L243.28,103.24 L243.91,102.75 L244.55,102.26 L245.18,101.77 L245.82,101.28 L246.45,100.79 L247.09,100.30 L247.72,99.80 L248.35,99.31 L248.98,98.82 L249.61,98.32 L250.24,97.82 L250.87,97.32 L251.49,96.83 L252.12,96.33 L252.75,95.83 L253.37,95.32 L254.00,94.82 L254.62,94.32 L255.24,93.81 L255.87,93.31 L256.49,92.80 L257.11,92.29 L257.73,91.79 L258.35,91.28 L258.97,90.77 L259.59,90.26 L260.20,89.74 L260.82,89.23 L261.44,88.72 L262.05,88.20 L262.67,87.69 L263.28,87.17 L263.89,86.66 L264.50,86.14 L265.12,85.62 L265.73,85.10 L266.34,84.58 L266.95,84.06 L267.56,83.53 L268.16,83.01 L268.77,82.49 L269.38,81.96 L269.98,81.44 L270.59,80.91 L271.19,80.38 L271.80,79.86 L272.40,79.33 L273.00,78.80 L273.61,78.27 L274.21,77.73 L274.81,77.20 L275.41,76.67 L276.01,76.14 L276.61,75.60 L277.20,75.07 L277.80,74.53 L278.40,73.99 L278.99,73.45 L279.59,72.92 L280.18,72.38 L280.78,71.84 L281.37,71.30 L281.96,70.75 L282.55,70.21 L283.14,69.67 L283.73,69.12 L284.32,68.58 L284.91,68.03 L285.50,67.49 L286.09,66.94 L286.68,66.39 L287.26,65.85 L287.85,65.30 L288.43,64.75 L289.02,64.20 L289.60,63.64 L290.18,63.09 L290.77,62.54 L291.35,61.99 L291.93,61.43 L292.51,60.88 L293.09,60.32 L293.67,59.77 L294.25,59.21 L294.83,58.65 L295.40,58.09 L295.98,57.53 L296.56,56.97 L297.13,56.41 L297.71,55.85 L298.28,55.29 L298.85,54.73 L299.43,54.17 L300.00,53.60 L300.57,53.04 L301.14,52.47 L301.71,51.91 L302.28,51.34 L302.85,50.78 L303.42,50.21 L303.99,49.64 L304.55,49.07 L305.12,48.50 L305.69,47.93 L306.25,47.36 L306.82,46.79 L307.38,46.22 L307.95,45.65 L308.51,45.07 L309.07,44.50 L309.63,43.93 L310.19,43.35 L310.75,42.78 L311.31,42.20 L311.87,41.62 L312.43,41.05 L312.99,40.47 L313.55,39.89 L314.10,39.31 L314.66,38.73 L315.22,38.15 L315.77,37.57 L316.33,36.99 L316.88,36.41 L317.43,35.83 L317.99,35.25 L318.54,34.66 L319.09,34.08 L319.64,33.49 L320.19,32.91 L320.74,32.32 L321.29,31.74 L321.84,31.15 L322.39,30.57 L322.93,29.98 L323.48,29.39 L324.03,28.80 L324.57,28.21 L325.12,27.62 L325.66,27.03 L326.21,26.44 L326.75,25.85 L327.29,25.26 L327.84,24.67 L328.38,24.08 L328.92,23.49 L329.46,22.89 L330.00,22.30"/>
<path class="c" stroke="#a50000" d="M17.60,229.80 L18.40,229.77 L19.20,229.75 L20.01,229.72 L20.81,229.69 L21.62,229.66 L22.43,229.64 L23.23,229.61 L24.04,229.59 L24.85,229.57 L25.66,229.55 L26.47,229.53 L27.28,229.52 L28.09,229.50 L28.90,229.49 L29.71,229.49 L30.52,229.49 L31.33,229.49 L32.14,229.50 L32.95,229.51 L33.76,229.52 L34.57,229.54 L35.38,229.57 L36.18,229.60 L36.99,229.64 L37.79,229.68 L38.60,229.74 L39.40,229.79 L40.20,229.86 L41.00,229.93 L41.80,230.01 L42.60,230.10 L43.40,230.20 L44.19,230.30 L44.98,230.42 L45.77,230.54 L46.56,230.67 L47.36,230.81 L48.15,230.96 L48.95,231.11 L49.76,231.26 L50.58,231.42 L51.41,231.56 L52.24,231.67 L53.06,231.72 L53.87,231.68 L54.65,231.53 L55.39,231.27 L56.06,230.88 L56.64,230.37 L57.13,229.76 L57.56,229.07 L57.95,228.34 L58.30,227.60 L58.64,226.85 L58.94,226.09 L59.23,225.33 L59.49,224.56 L59.73,223.79 L59.95,223.01 L60.16,222.23 L60.35,221.45 L60.52,220.66 L60.67,219.87 L60.82,219.08 L60.95,218.29 L61.06,217.49 L61.17,216.70 L61.26,215.90 L61.35,215.09 L61.43,214.29 L61.50,213.49 L61.56,212.68 L61.62,211.88 L61.68,211.07 L61.73,210.26 L61.78,209.45 L61.83,208.65 L61.88,207.84 L61.92,207.03 L61.97,206.22 L62.03,205.41 L62.08,204.60 L62.14,203.80 L62.21,202.99 L62.28,202.18 L62.35,201.38 L62.43,200.57 L62.52,199.77 L62.60,198.96 L62.68,198.16 L62.77,197.36 L62.84,196.55 L62.92,195.75 L62.99,194.95 L63.05,194.14 L63.11,193.34 L63.15,192.53 L63.19,191.73 L63.22,190.92 L63.25,190.11 L63.27,189.31 L63.29,188.50 L63.31,187.69 L63.33,186.88 L63.35,186.08 L63.36,185.27 L63.39,184.46 L63.41,183.65 L63.44,182.85 L63.48,182.04 L63.52,181.23 L63.56,180.43 L63.60,179.62 L63.65,178.82 L63.70,178.01 L63.75,177.20 L63.81,176.40 L63.86,175.59 L63.92,174.79 L63.98,173.98 L64.04,173.18 L64.10,172.37 L64.16,171.57 L64.22,170.76 L64.27,169.96 L64.33,169.15 L64.39,168.34 L64.44,167.54 L64.49,166.73 L64.55,165.93 L64.59,165.12 L64.64,164.31 L64.68,163.51 L64.72,162.70 L64.76,161.89 L64.80,161.08 L64.83,160.28 L64.87,159.47 L64.90,158.66 L64.93,157.86 L64.97,157.05 L65.00,156.24 L65.04,155.43 L65.07,154.63 L65.11,153.82 L65.15,153.01 L65.19,152.21 L65.23,151.40 L65.27,150.60 L65.32,149.79 L65.37,148.98 L65.43,148.18 L65.49,147.38 L65.55,146.57 L65.62,145.77 L65.69,144.96 L65.77,144.16 L65.85,143.36 L65.94,142.56 L66.04,141.76 L66.14,140.96 L66.25,140.16 L66.37,139.36 L66.49,138.56 L66.62,137.77 L66.76,136.97 L66.91,136.17 L67.07,135.38 L67.24,134.58 L67.41,133.79 L67.60,133.00 L67.85,133.77 L68.09,134.54 L68.32,135.31 L68.54,136.08 L68.75,136.86 L68.96,137.64 L69.16,138.41 L69.35,139.19 L69.53,139.98 L69.71,140.76 L69.88,141.54 L70.04,142.33 L70.20,143.11 L70.35,143.90 L70.49,144.69 L70.63,145.48 L70.77,146.27 L70.90,147.06 L71.03,147.85 L71.15,148.64 L71.27,149.43 L71.39,150.23 L71.50,151.02 L71.61,151.82 L71.72,152.61 L71.83,153.41 L71.93,154.20 L72.03,155.00 L72.14,155.80 L72.24,156.59 L72.34,157.39 L72.44,158.19 L72.53,158.98 L72.63,159.78 L72.73,160.58 L72.83,161.37 L72.94,162.17 L73.04,162.97 L73.14,163.76 L73.25,164.56 L73.36,165.35 L73.47,166.14 L73.58,166.94 L73.70,167.73 L73.82,168.52 L73.95,169.31 L74.07,170.10 L74.21,170.89 L74.34,171.68 L74.49,172.47 L74.63,173.26 L74.79,174.04 L74.95,174.83 L75.11,175.61 L75.28,176.39 L75.46,177.17 L75.64,177.95 L75.83,178.73 L76.03,179.50 L76.23,180.28 L76.45,181.05 L76.66,181.82 L76.89,182.59 L77.12,183.36 L77.37,184.13 L77.62,184.89 L77.87,185.65 L78.14,186.41 L78.41,187.17 L78.69,187.93 L78.99,188.68 L79.28,189.44 L79.59,190.19 L79.91,190.93 L80.24,191.68 L80.58,192.41 L80.93,193.14 L81.30,193.87 L81.68,194.58 L82.08,195.28 L82.50,195.97 L82.94,196.64 L83.39,197.30 L83.87,197.94 L84.37,198.56 L84.89,199.16 L85.43,199.74 L85.99,200.31 L86.57,200.85 L87.16,201.38 L87.78,201.88 L88.41,202.37 L89.06,202.83 L89.72,203.27 L90.40,203.70 L91.09,204.10 L91.80,204.48 L92.52,204.83 L93.25,205.17 L93.99,205.48 L94.74,205.77 L95.51,206.04 L96.27,206.30 L97.05,206.54 L97.83,206.76 L98.61,206.97 L99.40,207.17 L100.19,207.35 L100.97,207.53 L101.76,207.69 L102.55,207.85 L103.35,207.99 L104.14,208.12 L104.93,208.25 L105.73,208.36 L106.52,208.47 L107.32,208.56 L108.12,208.65 L108.92,208.73 L109.72,208.81 L110.52,208.87 L111.32,208.93 L112.12,208.98 L112.92,209.03 L113.73,209.07 L114.53,209.10 L115.33,209.13 L116.14,209.15 L116.94,209.17 L117.75,209.18 L118.55,209.19 L119.36,209.19 L120.16,209.19 L120.97,209.19 L121.77,209.18 L122.58,209.17 L123.38,209.16 L124.19,209.15 L124.99,209.13 L125.80,209.12 L126.60,209.10 L127.40,209.08 L128.21,209.05 L129.01,209.03 L129.82,209.00 L130.62,208.97 L131.42,208.94 L132.23,208.91 L133.03,208.88 L133.83,208.84 L134.63,208.80 L135.44,208.76 L136.24,208.72 L137.04,208.68 L137.84,208.64 L138.65,208.59 L139.45,208.54 L140.25,208.49 L141.05,208.44 L141.85,208.39 L142.65,208.33 L143.45,208.28 L144.25,208.22 L145.05,208.16 L145.85,208.10 L146.65,208.04 L147.45,207.97 L148.25,207.91 L149.05,207.84 L149.85,207.77 L150.65,207.70 L151.45,207.63 L152.24,207.55 L153.04,207.48 L153.84,207.40 L154.64,207.32 L155.44,207.24 L156.23,207.16 L157.03,207.08 L157.83,206.99 L158.63,206.91 L159.42,206.82 L160.22,206.73 L161.02,206.64 L161.81,206.55 L162.61,206.45 L163.40,206.36 L164.20,206.26 L165.00,206.17 L165.79,206.07 L166.59,205.97 L167.38,205.86 L168.18,205.76 L168.97,205.66 L169.76,205.55 L170.56,205.44 L171.35,205.34 L172.15,205.23 L172.94,205.11 L173.73,205.00 L174.53,204.89 L175.32,204.77 L176.11,204.66 L176.91,204.54 L177.70,204.42 L178.49,204.30 L179.28,204.18 L180.08,204.06 L180.87,203.93 L181.66,203.81 L182.45,203.68 L183.24,203.55 L184.03,203.42 L184.83,203.29 L185.62,203.16 L186.41,203.03 L187.20,202.90 L187.99,202.76 L188.78,202.63 L189.57,202.49 L190.36,202.35 L191.15,202.21 L191.94,202.07 L192.73,201.93 L193.52,201.79 L194.31,201.65 L195.09,201.50 L195.88,201.36 L196.67,201.21 L197.46,201.06 L198.25,200.92 L199.04,200.77 L199.82,200.62 L200.61,200.46 L201.40,200.31 L202.19,200.16 L202.97,200.00 L203.76,199.85 L204.55,199.69 L205.33,199.54 L206.12,199.38 L206.91,199.22 L207.69,199.06 L208.48,198.90 L209.26,198.74 L210.05,198.57 L210.84,198.41 L211.62,198.24 L212.41,198.08 L213.19,197.91 L213.98,197.75 L214.76,197.58 L215.54,197.41 L216.33,197.24 L217.11,197.07 L217.90,196.90 L218.68,196.73 L219.46,196.56 L220.25,196.38 L221.03,196.21 L221.81,196.03 L222.60,195.86 L223.38,195.68 L224.16,195.51 L224.94,195.33 L225.73,195.15 L226.51,194.97 L227.29,194.79 L228.07,194.61 L228.85,194.43 L229.64,194.25 L230.42,194.07 L231.20,193.88 L231.98,193.70 L232.76,193.52 L233.54,193.33 L234.32,193.14 L235.10,192.96 L235.88,192.77 L236.66,192.58 L237.44,192.40 L238.22,192.21 L239.00,192.02 L239.78,191.83 L240.56,191.64 L241.34,191.44 L242.12,191.25 L242.89,191.06 L243.67,190.87 L244.45,190.67 L245.23,190.48 L246.01,190.28 L246.79,190.09 L247.56,189.89 L248.34,189.69 L249.12,189.49 L249.89,189.29 L250.67,189.10 L251.45,188.90 L252.22,188.69 L253.00,188.49 L253.78,188.29 L254.55,188.09 L255.33,187.89 L256.10,187.68 L256.88,187.48 L257.66,187.27 L258.43,187.07 L259.21,186.86 L259.98,186.65 L260.75,186.44 L261.53,186.24 L262.30,186.03 L263.08,185.82 L263.85,185.61 L264.63,185.40 L265.40,185.18 L266.17,184.97 L266.95,184.76 L267.72,184.55 L268.49,184.33 L269.26,184.12 L270.04,183.90 L270.81,183.69 L271.58,183.47 L272.35,183.25 L273.12,183.03 L273.90,182.82 L274.67,182.60 L275.44,182.38 L276.21,182.16 L276.98,181.93 L277.75,181.71 L278.52,181.49 L279.29,181.27 L280.06,181.04 L280.83,180.82 L281.60,180.59 L282.37,180.37 L283.14,180.14 L283.91,179.92 L284.68,179.69 L285.45,179.46 L286.22,179.23 L286.98,179.00 L287.75,178.77 L288.52,178.54 L289.29,178.31 L290.06,178.08 L290.82,177.85 L291.59,177.61 L292.36,177.38 L293.13,177.15 L293.89,176.91 L294.66,176.68 L295.43,176.44 L296.19,176.20 L296.96,175.97 L297.72,175.73 L298.49,175.49 L299.25,175.25 L300.02,175.01 L300.78,174.77 L301.55,174.53 L302.31,174.29 L303.08,174.05 L303.84,173.80 L304.61,173.56 L305.37,173.32 L306.13,173.07 L306.90,172.83 L307.66,172.58 L308.42,172.33 L309.19,172.09 L309.95,171.84 L310.71,171.59 L311.48,171.34 L312.24,171.09 L313.00,170.84 L313.76,170.59 L314.52,170.34 L315.28,170.09 L316.05,169.84 L316.81,169.58 L317.57,169.33 L318.33,169.08 L319.09,168.82 L319.85,168.57 L320.61,168.31 L321.37,168.05 L322.13,167.80 L322.89,167.54 L323.65,167.28 L324.40,167.02 L325.16,166.76 L325.92,166.50 L326.68,166.24 L327.44,165.98 L328.20,165.72 L328.95,165.45 L329.71,165.19 L330.47,164.93 L331.23,164.66 L331.98,164.40 L332.74,164.13 L333.50,163.87 L334.25,163.60 L335.01,163.33 L335.76,163.07 L336.52,162.80 L337.28,162.53 L338.03,162.26 L338.79,161.99 L339.54,161.72 L340.30,161.45 L341.05,161.17 L341.80,160.90 L342.56,160.63 L343.31,160.35 L344.07,160.08 L344.82,159.81 L345.57,159.53 L346.33,159.25 L347.08,158.98 L347.83,158.70 L348.58,158.42 L349.34,158.14 L350.09,157.87 L350.84,157.59 L351.59,157.31 L352.34,157.03 L353.09,156.75 L353.84,156.46 L354.60,156.18 L355.35,155.90 L356.10,155.61 L356.85,155.33 L357.60,155.05 L358.35,154.76 L359.10,154.48 L359.84,154.19 L360.59,153.90 L361.34,153.62 L362.09,153.33 L362.84,153.04 L363.59,152.75 L364.34,152.46 L365.08,152.17 L365.83,151.88 L366.58,151.59 L367.32,151.30 L368.07,151.00 L368.82,150.71 L369.56,150.42 L370.31,150.12 L371.06,149.83 L371.80,149.53 L372.55,149.24 L373.29,148.94 L374.04,148.64 L374.78,148.35 L375.53,148.05 L376.27,147.75 L377.02,147.45 L377.76,147.15 L378.50,146.85 L379.25,146.55 L379.99,146.25 L380.73,145.95 L381.48,145.64 L382.22,145.34 L382.96,145.04 L383.70,144.73 L384.45,144.43 L385.19,144.12 L385.93,143.82 L386.67,143.51 L387.41,143.21 L388.15,142.90 L388.89,142.59 L389.63,142.28 L390.37,141.97 L391.11,141.66 L391.85,141.35 L392.59,141.04 L393.33,140.73 L394.07,140.42 L394.81,140.11 L395.55,139.80 L396.29,139.48 L397.03,139.17 L397.76,138.85 L398.50,138.54 L399.24,138.22 L399.98,137.91 L400.71,137.59 L401.45,137.27 L402.19,136.96 L402.92,136.64 L403.66,136.32 L404.39,136.00 L405.13,135.68 L405.87,135.36 L406.60,135.04 L407.34,134.72 L408.07,134.40 L408.80,134.07 L409.54,133.75 L410.27,133.43 L411.01,133.10 L411.74,132.78 L412.47,132.45 L413.21,132.13 L413.94,131.80 L414.67,131.48 L415.40,131.15 L416.14,130.82 L416.87,130.49 L417.60,130.17 L418.33,129.84 L419.06,129.51 L419.79,129.18 L420.52,128.85 L421.25,128.51 L421.98,128.18 L422.71,127.85 L423.44,127.52 L424.17,127.18 L424.90,126.85 L425.63,126.52 L426.36,126.18 L427.09,125.85 L427.82,125.51 L428.54,125.17 L429.27,124.84 L430.00,124.50"/>
</g>
<!-- axis label: script V with sub/superscript 2 -->
<g fill="none" stroke="#111" stroke-linecap="round" stroke-linejoin="round">
<path d="M8.2,8.7 C7.9,7.3 9.0,6.0 10.8,5.4 C11.7,5.1 12.5,4.9 13.1,4.9" stroke-width="1.0"/>
<path d="M13.0,4.9 C13.5,7.4 13.9,10.2 14.4,13.0" stroke-width="1.45"/>
<path d="M14.4,13.1 C15.6,10.3 17.4,7.4 19.8,5.3" stroke-width="0.9"/>
</g>
<text transform="translate(20.0,7.7) rotate(0.03) scale(1,1.04)" font-size="10.8px">2</text>
<text transform="translate(19.0,17.6) rotate(0.03) scale(1,1.04)" font-size="10.8px">2</text>
<!-- top legend -->
<line x1="28.6" y1="42.7" x2="73.2" y2="42.7" stroke="#555555" stroke-width="2.5" stroke-dasharray="4.95 4.95"/>
<!-- bottom legend -->
<g class="c" style="stroke-width:2.5">
<line x1="96.9" y1="260.75" x2="120.6" y2="260.75" stroke="#0000a0"/>
<line x1="176.9" y1="260.75" x2="200.6" y2="260.75" stroke="#00a000"/>
<line x1="269.2" y1="260.75" x2="292.9" y2="260.75" stroke="#a50000"/>
</g>
<g>
<text transform="translate(84.05,47.60) rotate(0.03) scale(1,1.040)" font-size="14.00px">B</text>
<text transform="translate(93.70,50.60) rotate(0.03) scale(1,1.040)" font-size="10.30px">0</text>
<rect x="101.20" y="41.60" width="6.90" height="1.20" fill="#111"/><rect x="101.20" y="45.30" width="6.90" height="1.20" fill="#111"/>
<text transform="translate(109.55,47.60) rotate(0.03) scale(1,1.040)" font-size="14.00px">0</text>
<text transform="translate(129.60,266.30) rotate(0.03) scale(1,1.040)" font-size="14.00px" font-style="italic">B</text>
<text transform="translate(138.70,269.10) rotate(0.03) scale(1,1.040)" font-size="10.30px">0</text>
<rect x="146.30" y="260.30" width="6.90" height="1.20" fill="#111"/><rect x="146.30" y="264.00" width="6.90" height="1.20" fill="#111"/>
<path transform="translate(154.20,266.30) scale(14.000,-14.000)" d="M0.3726,0 L0.2847,0 L0.2847,0.560 C0.2637,0.540 0.236,0.520 0.202,0.500 C0.168,0.480 0.137,0.465 0.110,0.455 L0.110,0.540 C0.159,0.563 0.202,0.591 0.238,0.624 C0.275,0.657 0.301,0.689 0.316,0.716 L0.3726,0.716 Z" fill="#111"/>
<text transform="translate(209.70,266.30) rotate(0.03) scale(1,1.040)" font-size="14.00px" font-style="italic">B</text>
<text transform="translate(218.80,269.10) rotate(0.03) scale(1,1.040)" font-size="10.30px">0</text>
<rect x="226.40" y="260.30" width="6.90" height="1.20" fill="#111"/><rect x="226.40" y="264.00" width="6.90" height="1.20" fill="#111"/>
<text transform="translate(233.95,266.30) rotate(0.03) scale(1,1.040)" font-size="14.00px">0</text>
<text transform="translate(242.80,266.30) rotate(0.03) scale(1,1.040)" font-size="14.00px">.</text>
<text transform="translate(246.40,266.30) rotate(0.03) scale(1,1.040)" font-size="14.00px">7</text>
<text transform="translate(302.10,266.30) rotate(0.03) scale(1,1.040)" font-size="14.00px" font-style="italic">B</text>
<text transform="translate(311.20,269.10) rotate(0.03) scale(1,1.040)" font-size="10.30px">0</text>
<rect x="318.80" y="260.30" width="6.90" height="1.20" fill="#111"/><rect x="318.80" y="264.00" width="6.90" height="1.20" fill="#111"/>
<text transform="translate(326.50,266.30) rotate(0.03) scale(1,1.040)" font-size="14.00px">0</text>
<text transform="translate(335.40,266.30) rotate(0.03) scale(1,1.040)" font-size="14.00px">.</text>
<text transform="translate(339.20,266.30) rotate(0.03) scale(1,1.040)" font-size="14.00px">4</text>
</g>
</svg>
</body>
</html>
